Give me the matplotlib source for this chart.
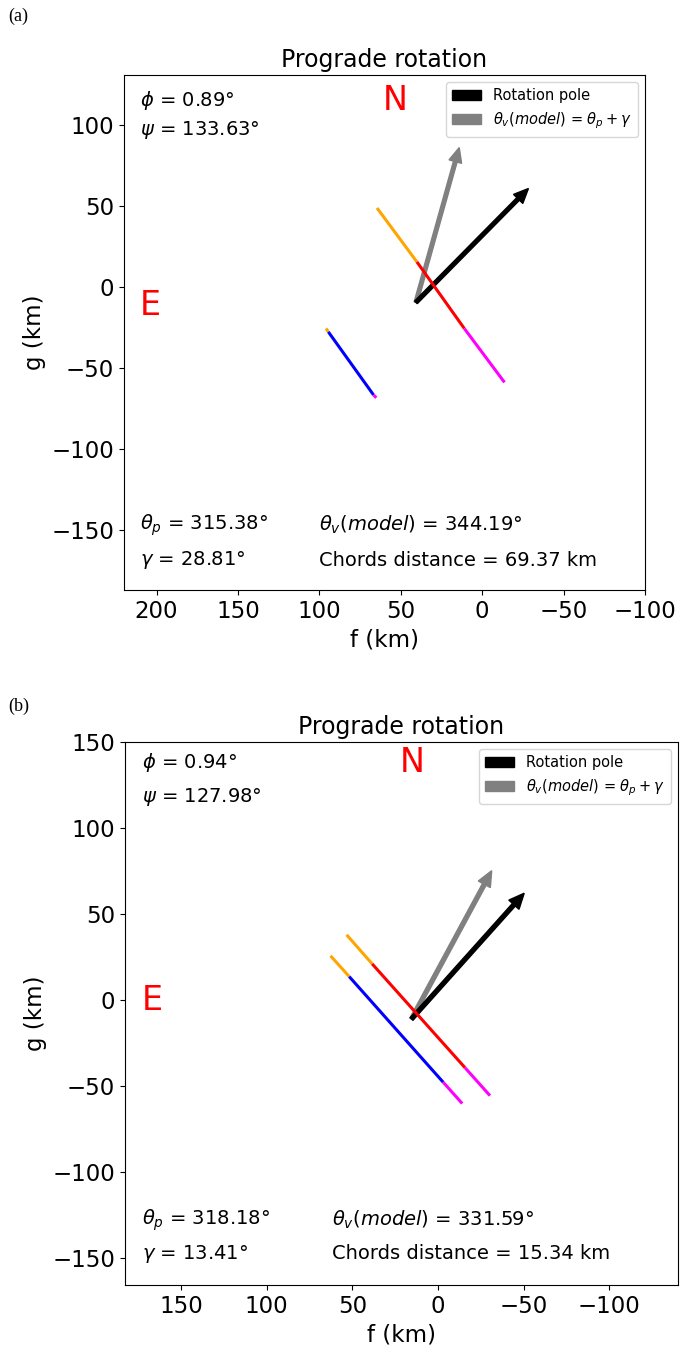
import numpy as np
from matplotlib import pyplot as plt

# chord segments (f, g) in km: break points along each chord
# panel (a)
a_chord1_f = [64.6, 40.1, 11.0, -13.7]
a_chord1_g = [48.9, 15.6, -25.5, -58.8]
a_chord1_mid = 'red'
a_chord2_f = [95.9, 94.5, 66.7, 65.0]
a_chord2_g = [-25.5, -27.6, -66.6, -68.3]
a_chord2_mid = 'blue'
a_origin = [40.7, -9.4]
a_pole_tip = [-28.4, 60.9]
a_model_tip = [14.1, 86.2]
a_params = dict(phi=0.89, psi=133.63, theta_p=315.38, gamma=28.81,
                theta_v=344.19, dist=69.37)

# panel (b)
b_chord1_f = [53.3, 38.4, -15.8, -30.4]
b_chord1_g = [37.8, 20.9, -39.5, -55.8]
b_chord1_mid = 'red'
b_chord2_f = [62.7, 51.8, -3.1, -14.2]
b_chord2_g = [25.6, 13.5, -48.0, -60.4]
b_chord2_mid = 'blue'
b_origin = [15.4, -11.2]
b_pole_tip = [-50.4, 62.0]
b_model_tip = [-31.4, 75.1]
b_params = dict(phi=0.94, psi=127.98, theta_p=318.18, gamma=13.41,
                theta_v=331.59, dist=15.34)


def draw_chord(ax, f, g, mid):
	# orange - mid - magenta pieces of a chord
	cols = ['orange', mid, 'magenta']
	for i in range(3):
		ax.plot(f[i:i+2], g[i:i+2], color=cols[i], lw=2.2, solid_capstyle='butt')


def panel(ax, chords, origin, pole_tip, model_tip, p, xlim, ylim, xt, yt, ty, ey):
	for f, g, mid in chords:
		draw_chord(ax, f, g, mid)

	ax.arrow(origin[0], origin[1], model_tip[0]-origin[0], model_tip[1]-origin[1],
			 width=2.3, head_width=8, head_length=9, length_includes_head=True,
			 color='gray', label=r'$\theta_v(model)$ = $\theta_p + \gamma$')
	ax.arrow(origin[0], origin[1], pole_tip[0]-origin[0], pole_tip[1]-origin[1],
			 width=2.3, head_width=8, head_length=9, length_includes_head=True,
			 color='black', label='Rotation pole')

	ax.set_xlim(*xlim)
	ax.set_ylim(*ylim)
	ax.set_xticks(xt)
	ax.set_yticks(yt)
	ax.tick_params(labelsize=16.5)
	ax.set_xlabel('f (km)', fontsize=16.5)
	ax.set_ylabel('g (km)', fontsize=16.5)
	ax.set_title('Prograde rotation', fontsize=17)

	h, l = ax.get_legend_handles_labels()
	ax.legend(h[::-1], l[::-1], loc='upper right', fontsize=10.5)

	ts = 14
	ax.text(0.03, ty[0], r'$\phi$ = %.2f°' % p['phi'], transform=ax.transAxes, fontsize=ts, va='center')
	ax.text(0.03, ty[1], r'$\psi$ = %.2f°' % p['psi'], transform=ax.transAxes, fontsize=ts, va='center')
	ax.text(0.03, ty[2], r'$\theta_p$ = %.2f°' % p['theta_p'], transform=ax.transAxes, fontsize=ts, va='center')
	ax.text(0.03, ty[3], r'$\gamma$ = %.2f°' % p['gamma'], transform=ax.transAxes, fontsize=ts, va='center')
	ax.text(0.375, ty[2], r'$\theta_v(model)$ = %.2f°' % p['theta_v'], transform=ax.transAxes, fontsize=ts, va='center')
	ax.text(0.375, ty[3], 'Chords distance = %.2f km' % p['dist'], transform=ax.transAxes, fontsize=ts, va='center')
	ax.text(0.52, ty[0], 'N', color='red', transform=ax.transAxes, fontsize=24, ha='center', va='center')
	ax.text(0.05, ey, 'E', color='red', transform=ax.transAxes, fontsize=24, ha='center', va='center')


fig = plt.figure(figsize=(6.96, 13.52), dpi=100)
W, H = 696, 1352

ax1 = fig.add_axes([124/W, 1-590/H, 521/W, 515/H])
panel(ax1, [(a_chord1_f, a_chord1_g, a_chord1_mid), (a_chord2_f, a_chord2_g, a_chord2_mid)],
	  a_origin, a_pole_tip, a_model_tip, a_params,
	  (220, -100), (-187, 131), [200, 150, 100, 50, 0, -50, -100], [100, 50, 0, -50, -100, -150],
	  [0.951, 0.893, 0.126, 0.058], 0.553)

ax2 = fig.add_axes([125/W, 1-1285/H, 553/W, 543/H])
panel(ax2, [(b_chord1_f, b_chord1_g, b_chord1_mid), (b_chord2_f, b_chord2_g, b_chord2_mid)],
	  b_origin, b_pole_tip, b_model_tip, b_params,
	  (182.7, -140.2), (-166, 150), [150, 100, 50, 0, -50, -100], [150, 100, 50, 0, -50, -100, -150],
	  [0.962, 0.898, 0.12, 0.058], 0.524)

fig.text(8/W, 1-16/H, '(a)', family='Liberation Serif', fontsize=13, va='center')
fig.text(8/W, 1-706/H, '(b)', family='Liberation Serif', fontsize=13, va='center')

fig.savefig('out.png', dpi=100)
